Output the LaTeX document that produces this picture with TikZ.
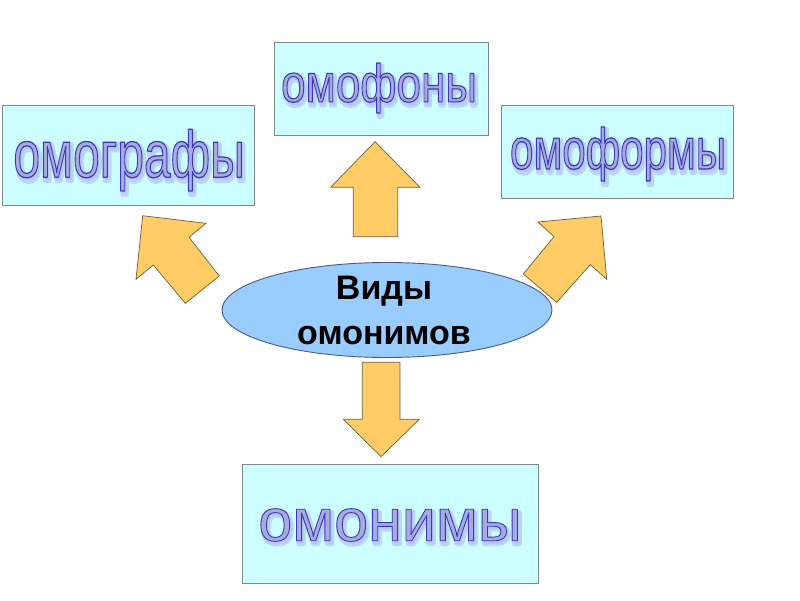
\documentclass[tikz,border=0pt]{standalone}
\usepackage{fontspec}
\usepackage{graphicx}
\usetikzlibrary{shapes.geometric}
\setmainfont{Liberation Sans}
\definecolor{boxfill}{HTML}{CCFFFF}
\definecolor{boxborder}{HTML}{808888}
\definecolor{ellfill}{HTML}{99CCFF}
\definecolor{ellborder}{HTML}{4A5A8A}
\definecolor{arrfill}{HTML}{FFCC66}
\definecolor{arrborder}{HTML}{6E5E3A}
\definecolor{wafillc}{HTML}{A8ABDD}
\definecolor{waglowc}{HTML}{B4C0F8}
\tikzset{
  box/.style={draw=boxborder, fill=boxfill, line width=0.9pt, inner sep=0pt},
  arrowshape/.style={draw=arrborder, fill=arrfill, line width=0.7pt, line join=miter},
  wordart/.style={inner sep=0pt, text=wafillc, anchor=center},
  waglow/.style={inner sep=0pt, text=waglowc, anchor=center, text opacity=0.7},
}
% outlined text: fill in current colour, stroke in dark blue
\newcommand\outlined[3]{% size, yscale, text
  \scalebox{1}[#2]{\fontsize{#1}{#1}\selectfont\special{pdf:literal direct 2 Tr 0.9 w 1 j 0.22 0.22 0.72 RG}#3\special{pdf:literal direct 0 Tr 0 j}}}
\newcommand\glowtext[3]{% size, yscale, text
  \scalebox{1}[#2]{\fontsize{#1}{#1}\selectfont\special{pdf:literal direct 2 Tr 4.5 w 1 j 1 J 0.72 0.77 0.98 RG}#3\special{pdf:literal direct 0 Tr 0 j 0 J}}}
\begin{document}
\begin{tikzpicture}[x=1pt,y=-1pt]
\useasboundingbox (0,0) rectangle (800,600);
% boxes
\node[box, minimum width=252pt, minimum height=100pt] (bgraf) at (128,155) {};
\node[box, minimum width=214pt, minimum height=93pt] (bfon) at (381,88.5) {};
\node[box, minimum width=232pt, minimum height=93pt] (bform) at (617,151.5) {};
\node[box, minimum width=296pt, minimum height=119pt] (bnim) at (390,523.5) {};
% glow behind texts
\node[waglow] (ggraf) at (131,163) {\glowtext{48}{1.38}{омографы}};
\node[waglow] (gfon) at (381,91) {\glowtext{44}{1.22}{омофоны}};
\node[waglow] (gform) at (620,157) {\glowtext{42}{1.38}{омоформы}};
\node[waglow] (gnim) at (392,528) {\glowtext{61}{0.98}{омонимы}};
% texts
\node[wordart] (tgraf) at (129,160) {\outlined{48}{1.38}{омографы}};
\node[wordart] (tfon) at (379,88) {\outlined{44}{1.22}{омофоны}};
\node[wordart] (tform) at (618,154) {\outlined{42}{1.38}{омоформы}};
\node[wordart] (tnim) at (390,525) {\outlined{61}{0.98}{омонимы}};
% ellipse
\node[ellipse, draw=ellborder, fill=ellfill, line width=0.9pt, minimum width=330pt, minimum height=95pt, inner sep=0pt] (ell) at (387,310) {};
\node[font=\bfseries\fontsize{34}{45}\selectfont, align=center, inner sep=0pt] (elltext) at (384,310) {Виды\\омонимов};
% arrows
\draw[arrowshape] (375,141.7) -- (420,187.3) -- (397.7,187.3) -- (397.7,236.7) -- (353.3,236.7) -- (353.3,187.3) -- (330.7,187.3) -- cycle;
\draw[arrowshape] (381,456.7) -- (419.3,419.3) -- (400,419.3) -- (400,362.3) -- (362.3,362.3) -- (362.3,419.3) -- (343.3,419.3) -- cycle;
\draw[arrowshape] (142.7,215.7) -- (206,223.3) -- (189,237.3) -- (219.3,276) -- (185.3,303.3) -- (153.3,265) -- (136,279.3) -- cycle;
\draw[arrowshape] (601,216) -- (606.7,279.3) -- (590.3,264.7) -- (556.7,302.3) -- (523.3,274) -- (554,236.7) -- (538,222) -- cycle;
\end{tikzpicture}
\end{document}
